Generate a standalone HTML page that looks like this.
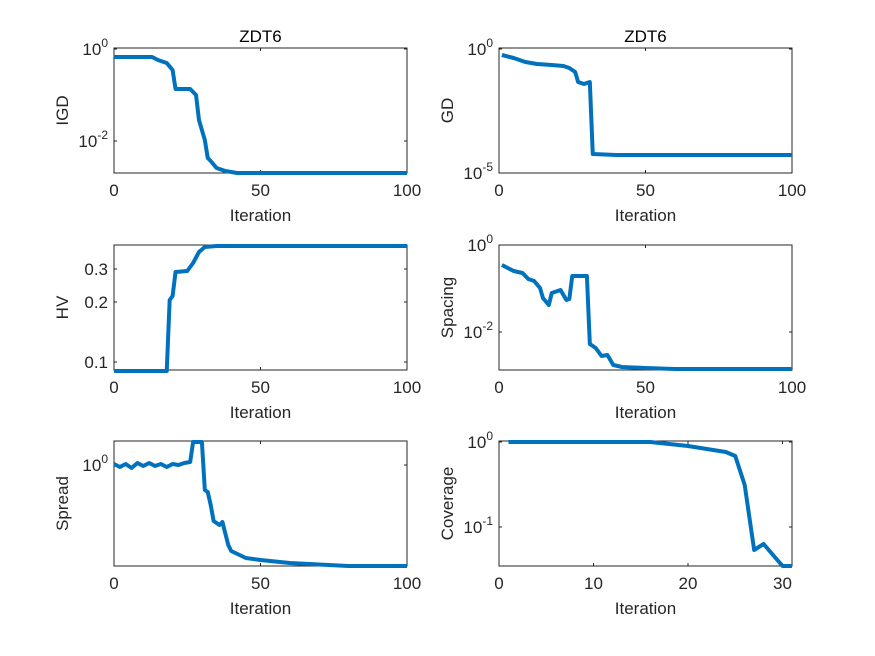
<!DOCTYPE html>
<html><head><meta charset="utf-8"><style>
body{margin:0;background:#fff}
svg{display:block;font-family:"Liberation Sans",Arial,sans-serif}
</style></head><body>
<svg id="s" width="875" height="656" viewBox="0 0 875 656" xmlns="http://www.w3.org/2000/svg">
<rect width="875" height="656" fill="#fff"/>
</svg>
<script>
const s=document.getElementById('s');let h='';
function ax(x0,y0,x1,y1,xt,yt,ylab,title){
 h+=`<rect x="${x0}" y="${y0}" width="${x1-x0}" height="${y1-y0}" fill="none" stroke="#262626" stroke-width="1"/>`;
 xt.forEach(([p,l])=>{h+=`<line x1="${p}" y1="${y1}" x2="${p}" y2="${y1-3}" stroke="#262626"/><line x1="${p}" y1="${y0}" x2="${p}" y2="${y0+3}" stroke="#262626"/><text x="${p}" y="${y1+23}" font-size="17" text-anchor="middle" fill="#262626">${l}</text>`});
 yt.forEach(([p,l])=>{h+=`<line x1="${x0}" y1="${p}" x2="${x0+3}" y2="${p}" stroke="#262626"/><line x1="${x1}" y1="${p}" x2="${x1-3}" y2="${p}" stroke="#262626"/>`;
  if(l.includes('^')){const [b,e]=l.split('^');h+=`<text x="${x0-6}" y="${p+6}" font-size="17" text-anchor="end" fill="#262626">${b}<tspan dy="-8" font-size="12">${e}</tspan></text>`}
  else h+=`<text x="${x0-6}" y="${p+6}" font-size="17" text-anchor="end" fill="#262626">${l}</text>`});
 h+=`<text x="${(x0+x1)/2}" y="${y1+48}" font-size="17" text-anchor="middle" fill="#262626">Iteration</text>`;
 h+=`<text transform="translate(${x0-46},${(y0+y1)/2}) rotate(-90)" font-size="17" text-anchor="middle" fill="#262626">${ylab}</text>`;
 if(title)h+=`<text x="${(x0+x1)/2}" y="${y0-6}" font-size="17" text-anchor="middle" fill="#000">${title}</text>`;
}
function line(pts,fx){h+=`<polyline fill="none" stroke="#0072BD" stroke-width="4" stroke-linejoin="round" points="${pts.map(([i,y])=>fx(i)+','+y).join(' ')}"/>`}
const L=i=>114+i*2.93,R=i=>499+i*2.93,C=i=>499+i*9.45;
const xl=[[114,'0'],[260.5,'50'],[407,'100']],xr=[[499,'0'],[645.5,'50'],[792,'100']];
ax(114,48,407,173,xl,[[49,'10^0'],[141,'10^-2']],'IGD','ZDT6');
line([[0,57],[13,57],[15,60],[18,63],[20,70],[21,89],[26,89],[28,95],[29,120],[30,130],[31,140],[32,158],[33,161],[35,168],[38,171],[42,173],[100,173]],L);
ax(499,48,792,173,xr,[[49,'10^0'],[173,'10^-5']],'GD','ZDT6');
line([[1,55],[5,58],[9,62],[13,64],[18,65],[22,66],[24,68],[26,72],[27,82],[29,84],[31,82],[32,154],[40,155],[60,155],[80,155],[100,155]],R);
ax(114,245,407,370,xl,[[269,'0.3'],[302,'0.2'],[362,'0.1']],'HV','');
line([[0,371],[18,371],[19,300],[20,296],[21,272],[25,271],[27,263],[29,252],[31,247],[35,246],[100,246]],L);
ax(499,245,792,370,xr,[[245,'10^0'],[332,'10^-2']],'Spacing','');
line([[1,265],[3,268],[5,271],[8,273],[10,279],[12,281],[14,288],[15,298],[17,305],[18,293],[21,290],[23,300],[24,299],[25,276],[30,276],[31,344],[33,348],[35,356],[37,355],[39,365],[42,367],[50,368],[60,369],[100,369]],R);
ax(114,441,407,566,xl,[[465,'10^0']],'Spread','');
line([[0,464],[2,467],[4,464],[6,468],[8,463],[10,466],[12,463],[14,466],[16,464],[18,467],[20,464],[22,465],[24,463],[26,462],[27,442],[30,442],[31,490],[32,492],[33,505],[34,521],[36,525],[37,522],[39,545],[40,551],[45,558],[50,560],[60,563],[80,566],[100,566]],L);
ax(499,441,792,566,[[499,'0'],[593.5,'10'],[688,'20'],[782.5,'30']],[[442,'10^0'],[527,'10^-1']],'Coverage','');
line([[1,442],[16,442],[20,446],[24,452],[25,456],[26,485],[27,550],[28,544],[30,566],[31,566]],C);
s.innerHTML+=h;
</script>
</body></html>
